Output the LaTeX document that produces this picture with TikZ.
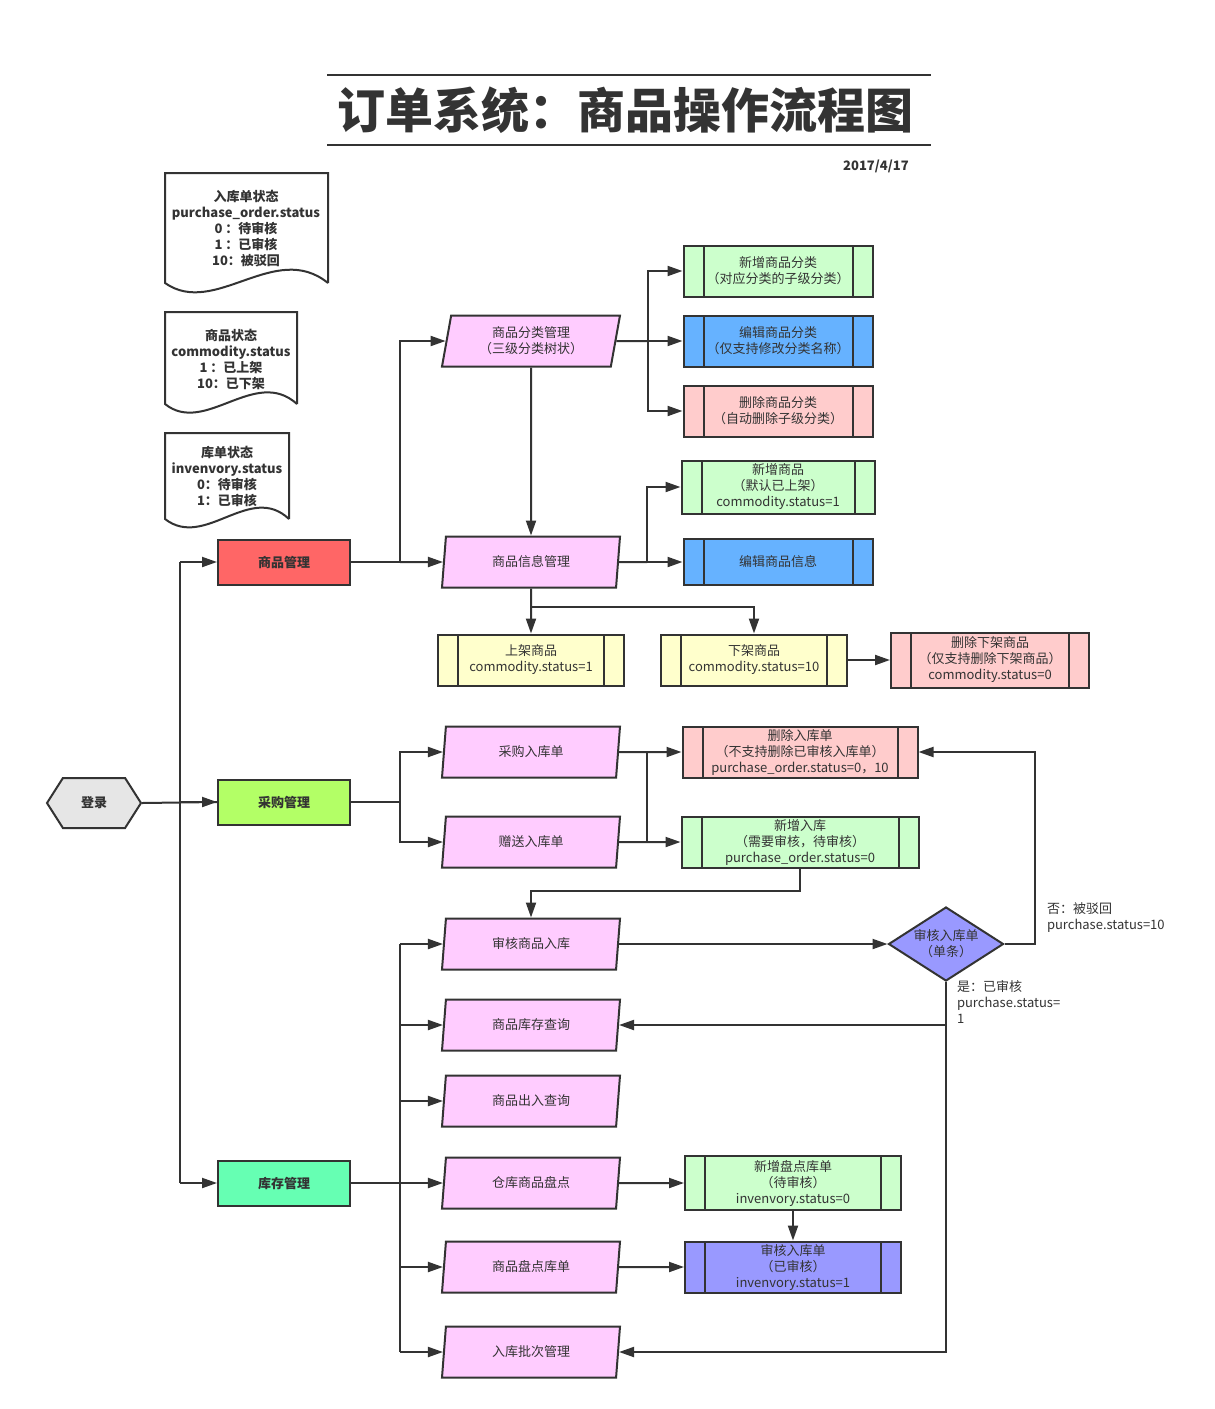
\documentclass[tikz,border=0pt]{standalone}
\usepackage{fontspec}
\setmainfont{Noto Sans CJK SC}
\usepackage{tikz}
\usetikzlibrary{shapes.geometric,shapes.symbols,arrows.meta,positioning}

\definecolor{ink}{HTML}{333333}
\definecolor{parafill}{HTML}{FFCCFF}
\definecolor{addfill}{HTML}{CCFFCC}
\definecolor{editfill}{HTML}{66B2FF}
\definecolor{delfill}{HTML}{FFCCCC}
\definecolor{shelffill}{HTML}{FFFFCC}
\definecolor{checkfill}{HTML}{9999FF}
\definecolor{goodsfill}{HTML}{FF6666}
\definecolor{buyfill}{HTML}{B3FF66}
\definecolor{stockfill}{HTML}{66FFB3}
\definecolor{loginfill}{HTML}{E6E6E6}

\begin{document}
\begin{tikzpicture}[x=1pt, y=-1pt, color=ink, line width=2pt,
  font=\fontsize{13}{16}\selectfont,
  para/.style={trapezium, trapezium left angle=72, trapezium right angle=108,
    trapezium stretches body, draw, fill=parafill, align=center,
    minimum width=178pt, minimum height=51pt, inner sep=0pt},
  proc/.style={draw, align=center, minimum width=189pt, minimum height=51pt, inner sep=0pt,
    path picture={\draw[line width=2pt]
      ([xshift=20pt]path picture bounding box.north west) -- ([xshift=20pt]path picture bounding box.south west)
      ([xshift=-20pt]path picture bounding box.north east) -- ([xshift=-20pt]path picture bounding box.south east);}},
  module/.style={draw, font=\fontsize{13}{16}\selectfont\bfseries, minimum width=132pt, minimum height=45pt},
  note/.style={align=center, font=\fontsize{13}{16}\selectfont\bfseries, inner sep=0pt},
  arr/.style={-{Triangle[length=15pt,width=10pt]}},
  lbl/.style={anchor=west, align=left, inner sep=0pt}]
\fill[white] (0,0) rectangle (1215,1409);
\useasboundingbox (0,0) rectangle (1215,1409);

% title
\draw (327,75) -- (931,75);
\draw (327,145) -- (931,145);
\node (title) at (625,110) {\fontsize{48}{56}\selectfont\bfseries 订单系统：商品操作流程图};
\node[anchor=east, font=\fontsize{13}{16}\selectfont\bfseries] (date) at (913,166) {2017/4/17};

% status notes
\draw[fill=white] (328,283) -- (328,173) -- (165,173) -- (165,283) .. controls (215,318) and (275,240) .. (328,283);
\node[note] (pstate) at (246,228) {入库单状态\\purchase\_order.status\\0 ：待审核\\1 ：已审核\\10：被驳回};
\draw[fill=white] (297,404) -- (297,312) -- (165,312) -- (165,404) .. controls (205,436) and (255,366) .. (297,404);
\node[note] (cstate) at (231,359) {商品状态\\commodity.status\\1 ：已上架\\10：已下架};
\draw[fill=white] (289,519) -- (289,433) -- (165,433) -- (165,519) .. controls (205,550) and (250,482) .. (289,519);
\node[note] (istate) at (227,476) {库单状态\\invenvory.status\\0：待审核\\1：已审核};

% modules
\node[signal, signal to=east and west, signal pointer angle=115, draw, fill=loginfill,
  minimum width=94pt, minimum height=50pt, font=\fontsize{13}{16}\selectfont\bfseries] (login) at (94,803) {登录};
\node[module, fill=goodsfill] (goods) at (284,562) {商品管理};
\node[module, fill=buyfill] (buy) at (284,802) {采购管理};
\node[module, fill=stockfill] (stock) at (284,1183) {库存管理};

% goods
\node[para] (cat) at (531,341) {商品分类管理\\（三级分类树状）};
\node[para] (info) at (531,562) {商品信息管理};
\node[proc, fill=addfill] (catadd) at (778,271) {新增商品分类\\（对应分类的子级分类）};
\node[proc, fill=editfill] (catedit) at (778,341) {编辑商品分类\\（仅支持修改分类名称）};
\node[proc, fill=delfill] (catdel) at (778,411) {删除商品分类\\（自动删除子级分类）};
\node[proc, fill=addfill, minimum width=193pt, minimum height=53pt] (gadd) at (778,487) {新增商品\\（默认已上架）\\commodity.status=1};
\node[proc, fill=editfill, minimum height=46pt] (gedit) at (778,562) {编辑商品信息};
\node[proc, fill=shelffill, minimum width=186pt] (onshelf) at (531,660) {上架商品\\commodity.status=1};
\node[proc, fill=shelffill, minimum width=186pt] (offshelf) at (754,660) {下架商品\\commodity.status=10};
\node[proc, fill=delfill, minimum width=198pt, minimum height=55pt, right=42pt of offshelf] (gdel) {删除下架商品\\（仅支持删除下架商品）\\commodity.status=0};

% purchase
\node[para] (pin) at (531,752) {采购入库单};
\node[para] (gift) at (531,842) {赠送入库单};
\node[proc, fill=delfill, minimum width=235pt] (indel) at (800,752) {删除入库单\\（不支持删除已审核入库单）\\purchase\_order.status=0，10};
\node[proc, fill=addfill, minimum width=237pt] (inadd) at (800,842) {新增入库\\（需要审核，待审核）\\purchase\_order.status=0};

% stock
\node[para] (audit) at (531,944) {审核商品入库};
\node[para] (query) at (531,1025) {商品库存查询};
\node[para] (flow) at (531,1101) {商品出入查询};
\node[para] (count) at (531,1183) {仓库商品盘点};
\node[para] (clist) at (531,1267) {商品盘点库单};
\node[para] (batch) at (531,1352) {入库批次管理};
\node[diamond, aspect=1.55, draw, fill=checkfill, minimum width=115pt, minimum height=74pt, inner sep=0pt, align=center] (dia) at (946,944) {审核入库单\\（单条）};
\node[proc, fill=addfill, minimum width=216pt, minimum height=54pt] (cadd) at (793,1183) {新增盘点库单\\（待审核）\\invenvory.status=0};
\node[proc, fill=checkfill, minimum width=216pt] (ccheck) at (793,1267) {审核入库单\\（已审核）\\invenvory.status=1};

\node[lbl] (nolbl) at (1046,918) {否：被驳回\\purchase.status=10};
\node[lbl] (yeslbl) at (956,1002) {是：已审核\\purchase.status=\\1};

% login bus
\coordinate (lbus) at (180,803);
\draw (login.east) -- (buy.west);
\draw[arr] (buy.west) ++(-38,0) -- (buy.west);
\draw (lbus |- goods.west) -- (lbus |- stock.west);
\draw[arr] (lbus |- goods.west) -- (goods.west);
\draw[arr] (lbus |- stock.west) -- (stock.west);

% goods flow
\coordinate (gbus) at (400,562);
\draw (goods.east) -- (gbus);
\draw[arr] (gbus) |- (cat.west);
\draw[arr] (gbus) -- (info.west);
\draw[arr] (cat.south) -- (info.north);
\coordinate (cbus) at (648,341);
\draw (cat.east) -- (cbus);
\draw[arr] (cbus) |- (catadd.west);
\draw[arr] (cbus) -- (catedit.west);
\draw[arr] (cbus) |- (catdel.west);
\coordinate (ibus) at (647,562);
\draw (info.east) -- (ibus);
\draw[arr] (ibus) |- (gadd.west);
\draw[arr] (ibus) -- (gedit.west);
\draw[arr] (info.south) -- (onshelf.north);
\draw[arr] (info.south) ++(0,18) -| (offshelf.north);
\draw[arr] (offshelf.east) -- (gdel.west);

% purchase flow
\coordinate (bbus) at (400,802);
\draw (buy.east) -- (bbus);
\draw[arr] (bbus) |- (pin.west);
\draw[arr] (bbus) |- (gift.west);
\draw[arr] (pin.east) -- (indel.west);
\draw[arr] (gift.east) -- (inadd.west);
\draw (647,752) -- (647,842);
\draw[arr] (inadd.south) -- ++(0,22) -| (audit.north);
\draw[arr] (audit.east) -- (dia.west);
\draw[arr] (dia.east) -- ++(30,0) |- (indel.east);
\draw[arr] (dia.south) |- (batch.east);
\draw[arr] (dia.south |- query.east) -- (query.east);

% stock flow
\coordinate (sbus) at (400,1183);
\draw (stock.east) -- (sbus);
\draw (sbus |- audit.west) -- (sbus |- batch.west);
\foreach \p in {audit,query,flow,count,clist,batch}
  \draw[arr] (sbus |- \p.west) -- (\p.west);
\draw[arr] (count.east) -- (cadd.west);
\draw[arr] (clist.east) -- (ccheck.west);
\draw[arr] (cadd.south) -- (ccheck.north);
\end{tikzpicture}
\end{document}
